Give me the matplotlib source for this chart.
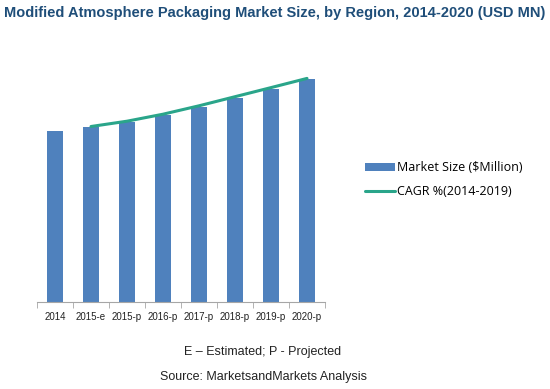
import matplotlib
matplotlib.use("Agg")
import matplotlib.pyplot as plt
import numpy as np

categories = ["2014", "2015-e", "2015-p", "2016-p", "2017-p", "2018-p", "2019-p", "2020-p"]
market_size = [170.7, 174.7, 180.0, 186.7, 195.0, 204.4, 213.4, 222.7]
cagr_line = [None, 175.5, 180.8, 187.8, 196.2, 205.3, 214.4, 223.6]

bar_color = "#4f81bd"
line_color = "#2aa58a"

fig = plt.figure(figsize=(5.5, 3.89), dpi=100)
ax = fig.add_axes([37/550, 1-302/389, 288/550, 250/389])

x = np.arange(len(categories))
bars = ax.bar(x, market_size, width=0.42, color=bar_color, label="Market Size ($Million)", zorder=2)
lx = [xi for xi, v in zip(x, cagr_line) if v is not None]
lv = [v for v in cagr_line if v is not None]
line, = ax.plot(lx, lv, color=line_color, lw=2.2, label="CAGR %(2014-2019)", zorder=3, solid_capstyle="round")

ax.set_xlim(-0.5, len(categories) - 0.5)
ax.set_ylim(0, 250)
for s in ["top", "right", "left"]:
    ax.spines[s].set_visible(False)
ax.spines["bottom"].set_color("#a6a6a6")
ax.set_yticks([])
ax.set_xticks(x)
ax.set_xticklabels(categories, fontsize=7, family=["Liberation Sans", "DejaVu Sans"], color="#222222")
ax.tick_params(axis="x", which="major", length=0, pad=7)
ax.set_xticks(np.arange(-0.5, len(categories)), minor=True)
ax.tick_params(axis="x", which="minor", length=4, color="#a6a6a6", direction="out")

leg = fig.legend(handles=[bars, line], loc="upper left", bbox_to_anchor=(354/550, 1-150/389), frameon=False,
                 prop={"family": ["Open Sans", "DejaVu Sans"], "size": 9},
                 handlelength=2.4, handleheight=0.6, labelspacing=0.85, handletextpad=0.15)

fig.text(0.5, 1-13/389, "Modified Atmosphere Packaging Market Size, by Region, 2014-2020 (USD MN)",
         ha="center", va="center", fontsize=10.5, fontweight="bold", color="#1f4e79",
         family=["Liberation Sans Narrow", "Liberation Sans", "DejaVu Sans"])
fig.text(263/550, 1-352/389, "E \u2013 Estimated; P - Projected", ha="center", va="center",
         fontsize=9, family=["Liberation Sans", "DejaVu Sans"], color="#222222")
fig.text(263/550, 1-377/389, "Source: MarketsandMarkets Analysis", ha="center", va="center",
         fontsize=9, family=["Liberation Sans", "DejaVu Sans"], color="#222222")

fig.savefig("out.png", dpi=100)
